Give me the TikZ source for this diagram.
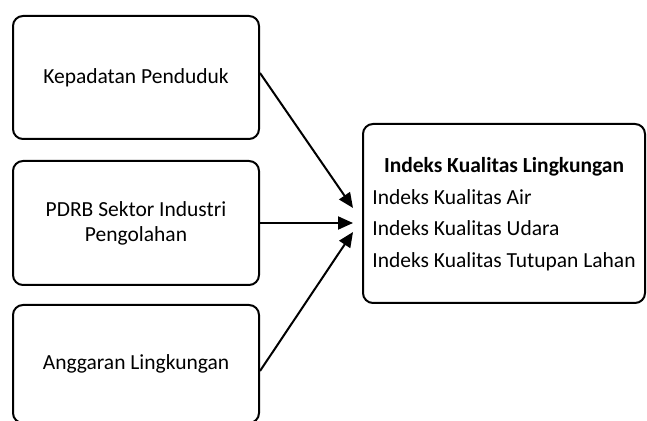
\documentclass[tikz,border=0pt]{standalone}
\usepackage{fontspec}
\setmainfont{Carlito}
\usepackage{tikz}
\usetikzlibrary{arrows.meta,positioning,calc}

\begin{document}
\begin{tikzpicture}[auto, node distance=20pt,
  >={Triangle[length=15pt,width=13pt]},
  font=\fontsize{21.5}{25}\selectfont, line width=2pt]
\tikzset{block/.style = {draw, rectangle, rounded corners=10pt,
  minimum width=246pt, align=center}}

  \useasboundingbox (0,0) rectangle (647pt,420pt);

  \node[block, minimum height=123pt] at (136pt,342.5pt)
    (kepadatan){Kepadatan Penduduk};
  \node[block, minimum height=124pt, below=20pt of kepadatan]
    (pdrb){PDRB Sektor Industri\\ Pengolahan};
  \node[block, minimum height=118pt, below=18pt of pdrb]
    (anggaran){Anggaran Lingkungan};

  \node[block, minimum width=282pt, minimum height=179pt,
    font=\fontsize{21.5}{31.5}\selectfont] at (504pt,206.5pt)
    (ikl){\begin{tabular}{@{}l@{}}
      \multicolumn{1}{@{}c@{}}{\textbf{Indeks Kualitas Lingkungan}}\\
      Indeks Kualitas Air\\
      Indeks Kualitas Udara\\
      Indeks Kualitas Tutupan Lahan
    \end{tabular}};

  \draw[->] ([yshift=4.5pt]kepadatan.east)
    -- ([xshift=-9pt,yshift=5.5pt]ikl.west);
  \draw[->] (pdrb.east) -- ($(pdrb.east -| ikl.west)+(-9pt,0)$);
  \draw[->] ([yshift=-7pt]anggaran.east)
    -- ([xshift=-9pt,yshift=-18.5pt]ikl.west);

\end{tikzpicture}
\end{document}
